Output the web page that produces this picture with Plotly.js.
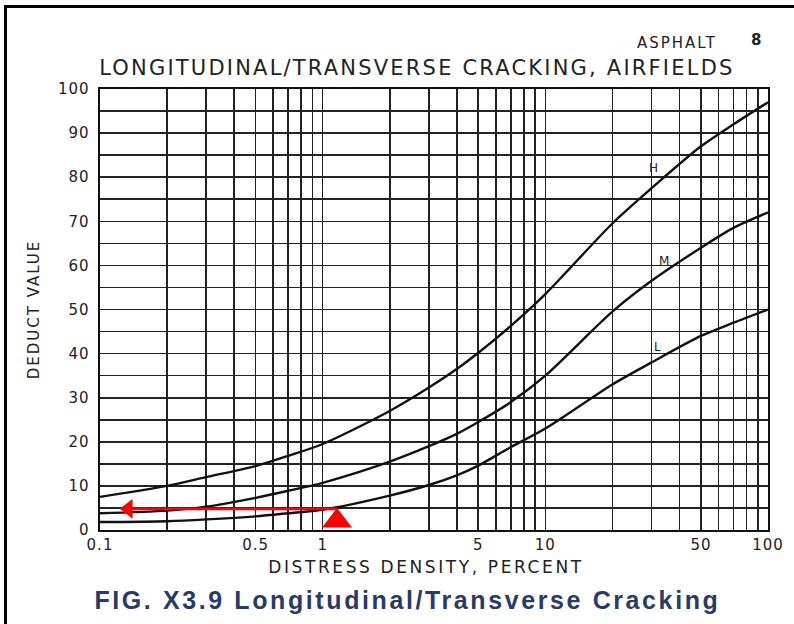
<!DOCTYPE html>
<html>
<head>
<meta charset="utf-8">
<script src="https://cdn.plot.ly/plotly-3.0.1.min.js"></script>
<style>
html,body{margin:0;padding:0;background:#fff;}
#chart{width:794px;height:624px;}
#frame{position:absolute;left:4px;top:5px;width:800px;height:700px;border-top:3px solid #000;border-left:3px solid #000;pointer-events:none;}
#chart .gtitle{letter-spacing:2.2px;}
#chart .xtitle{letter-spacing:2.6px;transform:translateX(-8px);}
#chart .ytitle{letter-spacing:2px;}
#chart .xtick text, #chart .ytick text{letter-spacing:1px;}
</style>
</head>
<body>
<div id="chart"></div>
<div id="frame"></div>
<script>
// Distress density (percent)
const density = [0.1, 0.2, 0.3, 0.5, 0.7, 1, 2, 3, 4, 5, 7, 10, 20, 30, 50, 70, 100];
// Deduct values
const highSeverity   = [7.5, 10, 12, 14.5, 16.8, 19.5, 27, 32.3, 36.5, 40.2, 46.3, 53.5, 69.5, 77.5, 87, 92, 97];
const mediumSeverity = [3.8, 4.4, 5.3, 7.3, 8.9, 10.7, 15.5, 19, 21.8, 24.5, 29, 35, 49.5, 56.5, 64, 68.5, 72];
const lowSeverity    = [1.8, 2.0, 2.4, 3.1, 3.8, 4.6, 7.8, 10.2, 12.4, 14.6, 18.8, 23, 33, 38, 44, 47, 50];

const curveLabels = [
  {text: 'H', x: 30.5, y: 82},
  {text: 'M', x: 34, y: 61},
  {text: 'L', x: 32, y: 41.5}
];

// Example reading (red arrow)
const exampleDensity = 1.16;
const exampleDeduct = 4.8;
const arrowEndDensity = 0.134;

// Axis ticks
const xTickVals = [];
const xTickText = [];
const xLabels = {0.1:'0.1', 0.5:'0.5', 1:'1', 5:'5', 10:'10', 50:'50', 100:'100'};
[0.1, 1, 10].forEach(function(dec){
  for (let m = 1; m <= 9; m++) {
    const v = +(dec * m).toPrecision(3);
    xTickVals.push(v);
    xTickText.push(xLabels[v] || '');
  }
});
xTickVals.push(100); xTickText.push('100');

const yTickVals = [];
const yTickText = [];
for (let v = 0; v <= 100; v += 5) {
  yTickVals.push(v);
  yTickText.push(v % 10 === 0 ? String(v) : '');
}

const curveLine = {color: '#111', width: 2.4, shape: 'spline', smoothing: 0.8};

const traces = [
  {x: density, y: highSeverity, mode: 'lines', line: curveLine, hoverinfo: 'skip'},
  {x: density, y: mediumSeverity, mode: 'lines', line: curveLine, hoverinfo: 'skip'},
  {x: density, y: lowSeverity, mode: 'lines', line: curveLine, hoverinfo: 'skip'},
  {x: [exampleDensity, arrowEndDensity], y: [exampleDeduct, exampleDeduct], mode: 'lines',
   line: {color: '#ff0000', width: 2.8}, hoverinfo: 'skip'},
  {x: [arrowEndDensity], y: [exampleDeduct], mode: 'markers',
   marker: {symbol: 'triangle-left', size: 17, color: '#ff0000'}, hoverinfo: 'skip', cliponaxis: false},
  {x: [exampleDensity], y: [2.05], mode: 'markers',
   marker: {symbol: 'triangle-up', size: 26, color: '#ff0000'}, hoverinfo: 'skip', cliponaxis: false}
];

const annotations = curveLabels.map(function(c){
  return {text: c.text, x: Math.log10(c.x), y: c.y, xref: 'x', yref: 'y', showarrow: false,
          font: {family: 'DejaVu Sans, sans-serif', size: 12, color: '#222'}};
});
annotations.push({text: 'ASPHALT', xref: 'paper', yref: 'paper', x: 0.864, y: (530-43)/441,
  xanchor: 'center', yanchor: 'middle', showarrow: false,
  font: {family: 'DejaVu Sans, sans-serif', size: 15, color: '#222'}});
annotations.push({text: '8', xref: 'paper', yref: 'paper', x: 0.972, y: (530-40)/441,
  xanchor: 'left', yanchor: 'middle', showarrow: false,
  font: {family: 'DejaVu Sans, sans-serif', size: 15, color: '#222', weight: 'bold'}});
annotations.push({text: 'FIG. X3.9 Longitudinal/Transverse Cracking', xref: 'paper', yref: 'paper',
  x: 0.46, y: (530-600)/441, xanchor: 'center', yanchor: 'middle', showarrow: false,
  font: {family: 'Liberation Sans, Arial, sans-serif', size: 25, color: '#283a68', weight: 'bold'}});

const layout = {
  width: 794, height: 624,
  margin: {l: 100, r: 26, t: 89, b: 94},
  paper_bgcolor: '#fff', plot_bgcolor: '#fff',
  showlegend: false,
  title: {text: 'LONGITUDINAL/TRANSVERSE CRACKING, AIRFIELDS', x: 0.525, xanchor: 'center',
          y: 1 - 68/624, yanchor: 'middle', font: {family: 'DejaVu Sans, sans-serif', size: 21, color: '#222'}},
  xaxis: {
    type: 'log', range: [-1, 2], tickvals: xTickVals, ticktext: xTickText,
    showgrid: true, gridcolor: '#222', gridwidth: 1.6, zeroline: false,
    showline: true, linecolor: '#111', linewidth: 2.4, mirror: true, ticks: '',
    tickfont: {family: 'DejaVu Sans, sans-serif', size: 15, color: '#222'},
    title: {text: 'DISTRESS DENSITY, PERCENT', standoff: 8, font: {family: 'DejaVu Sans, sans-serif', size: 17, color: '#222'}}
  },
  yaxis: {
    range: [0, 100], tickvals: yTickVals, ticktext: yTickText,
    showgrid: true, gridcolor: '#222', gridwidth: 1.6, zeroline: false,
    showline: true, linecolor: '#111', linewidth: 2.4, mirror: true, ticks: '',
    ticklabelstandoff: 5,
    tickfont: {family: 'DejaVu Sans, sans-serif', size: 15, color: '#222'},
    title: {text: 'DEDUCT VALUE', standoff: 18, font: {family: 'DejaVu Sans, sans-serif', size: 15, color: '#222'}}
  },
  annotations: annotations
};

Plotly.newPlot('chart', traces, layout, {displayModeBar: false, staticPlot: true}).then(function(){
  document.querySelectorAll('#chart .annotation-text').forEach(function(t){
    const s = t.textContent;
    if (s.indexOf('FIG.') === 0) t.style.letterSpacing = '2.6px';
    else if (s === 'ASPHALT') t.style.letterSpacing = '2px';
  });
});
</script>
</body>
</html>
